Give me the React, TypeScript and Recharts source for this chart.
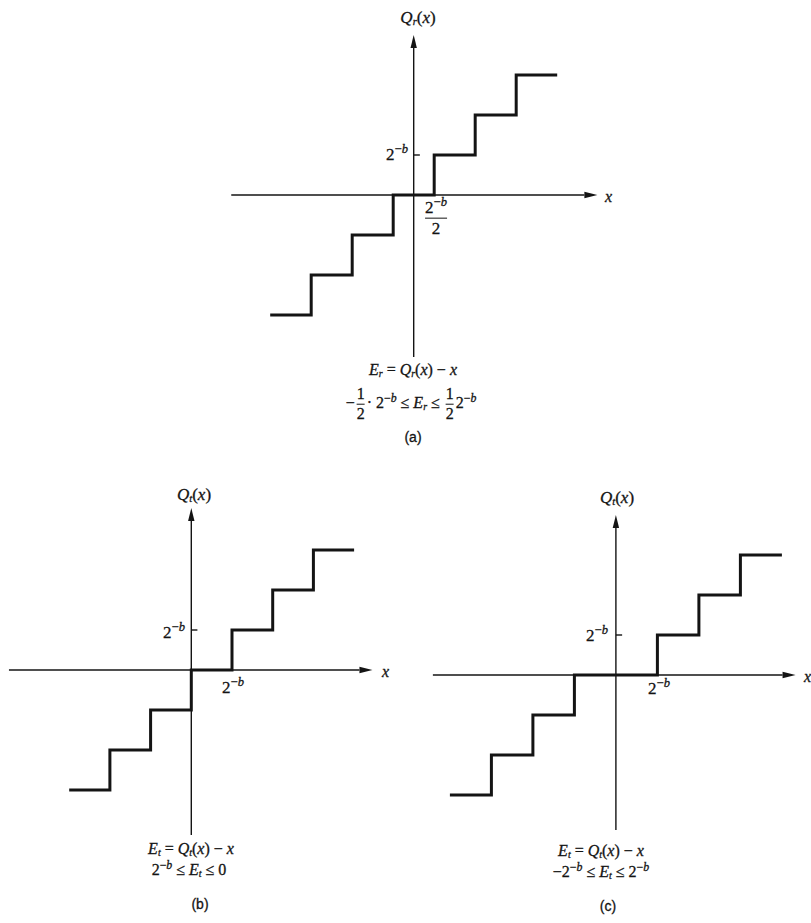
import React from 'react';
import { LineChart, Line, XAxis, YAxis, ReferenceLine } from 'recharts';

// ---- data (in units of the quantization step 2^-b) ----
const roundingX = [-3.5, -2.5, -1.5, -0.5, 0.5, 1.5, 2.5, 3.5];
const roundingQ = [-3, -2, -1, 0, 1, 2, 3, 3];
const twosTruncX = [-3, -2, -1, 0, 1, 2, 3, 4];
const twosTruncQ = [-3, -2, -1, 0, 1, 2, 3, 3];
const magTruncX = [-4, -3, -2, -1, 1, 2, 3, 4];
const magTruncQ = [-3, -2, -1, 0, 1, 2, 3, 3];
const stepTick = 1; // the 2^-b tick on the Q axis
const panelLabels = ['(a)', '(b)', '(c)'];

const INK = '#141414';
const SERIF = '"Liberation Serif", "DejaVu Serif", serif';
const SANS = '"Liberation Sans", "DejaVu Sans", sans-serif';

const ArrowLine = (props: any) => {
  const { x1, y1, x2, y2 } = props;
  const dx = x2 - x1;
  const dy = y2 - y1;
  const len = Math.sqrt(dx * dx + dy * dy) || 1;
  const ux = dx / len;
  const uy = dy / len;
  const L = 13;
  const W = 3.2;
  const bx = x2 - ux * L;
  const by = y2 - uy * L;
  const px = -uy * W;
  const py = ux * W;
  return (
    <g>
      <line x1={x1} y1={y1} x2={bx} y2={by} stroke={INK} strokeWidth={1.4} />
      <polygon points={`${x2},${y2} ${bx + px},${by + py} ${bx - px},${by - py}`} fill={INK} />
    </g>
  );
};

type PlotProps = {
  xs: number[];
  qs: number[];
  left: number;
  top: number;
  width: number;
  height: number;
  xDomain: [number, number];
  yDomain: [number, number];
  xAxisEnds: [number, number];
  yAxisEnds: [number, number];
  tickLen: number;
};

function StepPlot(p: PlotProps) {
  const data = p.xs.map((x, i) => ({ x, q: p.qs[i] }));
  return (
    <div style={{ position: 'absolute', left: p.left, top: p.top }}>
      <LineChart width={p.width} height={p.height} data={data} margin={{ top: 0, right: 0, bottom: 0, left: 0 }}>
        <XAxis type="number" dataKey="x" domain={p.xDomain} hide allowDataOverflow />
        <YAxis type="number" domain={p.yDomain} hide allowDataOverflow />
        <ReferenceLine segment={[{ x: p.xAxisEnds[0], y: 0 }, { x: p.xAxisEnds[1], y: 0 }]} shape={ArrowLine} />
        <ReferenceLine segment={[{ x: 0, y: p.yAxisEnds[0] }, { x: 0, y: p.yAxisEnds[1] }]} shape={ArrowLine} />
        <ReferenceLine segment={[{ x: 0, y: stepTick }, { x: p.tickLen, y: stepTick }]} stroke={INK} strokeWidth={1.4} />
        <Line type="stepAfter" dataKey="q" stroke={INK} strokeWidth={3} dot={false} isAnimationActive={false} />
      </LineChart>
    </div>
  );
}

const I = ({ children }: any) => <span style={{ fontStyle: 'italic' }}>{children}</span>;
const Sub = ({ children }: any) => (
  <span style={{ fontSize: '0.62em', verticalAlign: '-0.25em', fontStyle: 'italic', lineHeight: 0 }}>{children}</span>
);
const Sup = ({ children }: any) => (
  <span style={{ fontSize: '0.74em', verticalAlign: '0.5em', lineHeight: 0 }}>{children}</span>
);
const Pow = () => (
  <span>
    2<Sup>−<I>b</I></Sup>
  </span>
);
const Frac = ({ num, den }: any) => (
  <span
    style={{
      display: 'inline-flex',
      flexDirection: 'column',
      alignItems: 'center',
      verticalAlign: 'middle',
      lineHeight: 1.05,
      margin: '0 2px',
    }}
  >
    <span>{num}</span>
    <span style={{ alignSelf: 'stretch', borderTop: `1.4px solid ${INK}`, margin: '1px 0' }} />
    <span>{den}</span>
  </span>
);

const Txt = ({ x, y, anchor = 'middle', size = 16, sans = false, children }: any) => {
  const tx = anchor === 'middle' ? '-50%' : anchor === 'end' ? '-100%' : '0';
  return (
    <div
      style={{
        position: 'absolute',
        left: x,
        top: y,
        transform: `translate(${tx}, -50%)`,
        whiteSpace: 'nowrap',
        fontFamily: sans ? SANS : SERIF,
        fontSize: size,
        lineHeight: 1,
        color: INK,
        WebkitTextStroke: '0.3px #141414',
      }}
    >
      {children}
    </div>
  );
};

export default function App() {
  return (
    <div style={{ position: 'absolute', left: 0, top: 0, width: 811, height: 923, background: '#fff', overflow: 'hidden' }}>
      {/* (a) rounding */}
      <StepPlot
        xs={roundingX}
        qs={roundingQ}
        left={220.8}
        top={23}
        width={385.4}
        height={344}
        xDomain={[-4.7, 4.7]}
        yDomain={[-4.3, 4.3]}
        xAxisEnds={[-4.45, 4.48]}
        yAxisEnds={[-4.05, 4.0]}
        tickLen={0.15}
      />
      <Txt x={418} y={17} size={17}>
        <I>Q</I><Sub>r</Sub>(<I>x</I>)
      </Txt>
      <Txt x={605} y={197} anchor="start"><I>x</I></Txt>
      <Txt x={408} y={154} anchor="end" size={17}><Pow /></Txt>
      <Txt x={436} y={218} size={17}>
        <Frac num={<Pow />} den="2" />
      </Txt>
      <Txt x={413} y={370}>
        <I>E</I><Sub>r</Sub> = <I>Q</I><Sub>r</Sub>(<I>x</I>) − <I>x</I>
      </Txt>
      <Txt x={411} y={404}>
        −<Frac num="1" den="2" />· <Pow /> ≤ <I>E</I><Sub>r</Sub> ≤ <Frac num="1" den="2" /><Pow />
      </Txt>
      <Txt x={413} y={437} sans size={14}>{panelLabels[0]}</Txt>

      {/* (b) two's complement truncation */}
      <StepPlot
        xs={twosTruncX}
        qs={twosTruncQ}
        left={0.4}
        top={498}
        width={382.6}
        height={344}
        xDomain={[-4.7, 4.7]}
        yDomain={[-4.3, 4.3]}
        xAxisEnds={[-4.48, 4.45]}
        yAxisEnds={[-4.125, 4.05]}
        tickLen={0.15}
      />
      <Txt x={194} y={494} size={17}>
        <I>Q</I><Sub>t</Sub>(<I>x</I>)
      </Txt>
      <Txt x={382} y={672} anchor="start"><I>x</I></Txt>
      <Txt x={185} y={632} anchor="end" size={17}><Pow /></Txt>
      <Txt x={233} y={687} size={17}><Pow /></Txt>
      <Txt x={191} y={849}>
        <I>E</I><Sub>t</Sub> = <I>Q</I><Sub>t</Sub>(<I>x</I>) − <I>x</I>
      </Txt>
      <Txt x={189} y={870}>
        <Pow /> ≤ <I>E</I><Sub>t</Sub> ≤ 0
      </Txt>
      <Txt x={200} y={904} sans size={14}>{panelLabels[1]}</Txt>

      {/* (c) sign-magnitude truncation */}
      <StepPlot
        xs={magTruncX}
        qs={magTruncQ}
        left={424.6}
        top={503}
        width={381.8}
        height={344}
        xDomain={[-4.6, 4.6]}
        yDomain={[-4.3, 4.3]}
        xAxisEnds={[-4.41, 4.33]}
        yAxisEnds={[-3.875, 4.0]}
        tickLen={0.15}
      />
      <Txt x={617} y={497} size={17}>
        <I>Q</I><Sub>t</Sub>(<I>x</I>)
      </Txt>
      <Txt x={804} y={677} anchor="start"><I>x</I></Txt>
      <Txt x={608} y={635} anchor="end" size={17}><Pow /></Txt>
      <Txt x={659} y={688} size={17}><Pow /></Txt>
      <Txt x={601} y={851}>
        <I>E</I><Sub>t</Sub> = <I>Q</I><Sub>t</Sub>(<I>x</I>) − <I>x</I>
      </Txt>
      <Txt x={601} y={872}>
        −<Pow /> ≤ <I>E</I><Sub>t</Sub> ≤ <Pow />
      </Txt>
      <Txt x={608} y={906} sans size={14}>{panelLabels[2]}</Txt>
    </div>
  );
}
